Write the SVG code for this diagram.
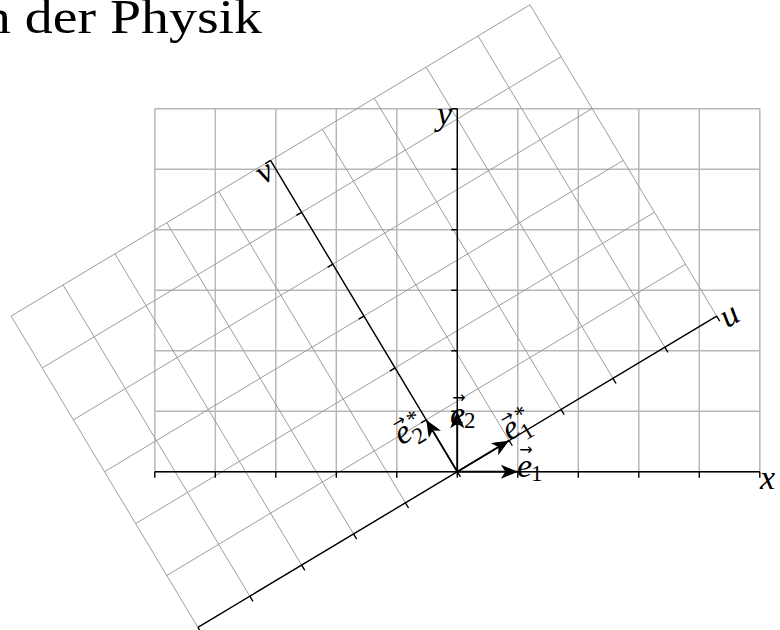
<svg xmlns="http://www.w3.org/2000/svg" width="780" height="630" viewBox="0 0 780 630">
<defs>
<style>
.gxy{fill:none;stroke:#b8b8b8;stroke-width:1.5;vector-effect:non-scaling-stroke}
.guv{fill:none;stroke:#9c9c9c;stroke-width:1;vector-effect:non-scaling-stroke}
.ax{fill:none;stroke:#000;stroke-width:1.4;vector-effect:non-scaling-stroke}
.vec{fill:none;stroke:#000;stroke-width:1.7;marker-end:url(#ah)}
.lbl{font-family:"Liberation Serif","DejaVu Serif",serif;font-style:italic;font-size:34px;fill:#000}
.sub{font-family:"Liberation Serif","DejaVu Serif",serif;font-size:23px;fill:#000}
.acc{font-family:"DejaVu Sans",sans-serif;font-size:16px;fill:#000;text-anchor:middle}
.ttl{font-family:"Liberation Serif","DejaVu Serif",serif;font-size:48px;fill:#000}
</style>
<marker id="ah" markerUnits="userSpaceOnUse" markerWidth="20" markerHeight="18" viewBox="-18 -9 20 18" refX="0" refY="0" orient="auto">
<path d="M0,0 C-5,-1.8 -10,-4.5 -17,-7 L-12.5,0 L-17,7 C-10,4.5 -5,1.8 0,0 Z" fill="#000"/>
</marker>
</defs>
<rect width="780" height="630" fill="#fff"/>
<g id="title"><text class="ttl" x="-17" y="33" textLength="279" lengthAdjust="spacingAndGlyphs">n der Physik</text></g>
<g id="grid-xy" transform="matrix(60.5,0,0,-60.5,457.3,471.7)">
<path class="gxy" d="M-5,0V6M-4,0V6M-3,0V6M-2,0V6M-1,0V6M0,0V6M1,0V6M2,0V6M3,0V6M4,0V6M5,0V6M-5,0H5M-5,1H5M-5,2H5M-5,3H5M-5,4H5M-5,5H5M-5,6H5"/>
</g>
<g id="grid-uv" transform="matrix(51.878,-31.127,-31.127,-51.878,457.3,471.7)">
<path class="guv" d="M-5,0V6M-4,0V6M-3,0V6M-2,0V6M-1,0V6M0,0V6M1,0V6M2,0V6M3,0V6M4,0V6M5,0V6M-5,0H5M-5,1H5M-5,2H5M-5,3H5M-5,4H5M-5,5H5M-5,6H5"/>
</g>
<g id="connectors">
<g id="axes-xy" transform="matrix(60.5,0,0,-60.5,457.3,471.7)">
<path class="ax" d="M-5,0H5M0,0V6M-5,0V-0.1M-4,0V-0.1M-3,0V-0.1M-2,0V-0.1M-1,0V-0.1M0,0V-0.1M1,0V-0.1M2,0V-0.1M3,0V-0.1M4,0V-0.1M5,0V-0.1M0,1H-0.1M0,2H-0.1M0,3H-0.1M0,4H-0.1M0,5H-0.1M0,6H-0.1"/>
</g>
<g id="axes-uv" transform="matrix(51.878,-31.127,-31.127,-51.878,457.3,471.7)">
<path class="ax" d="M-5,0H5M0,0V6M-5,0V-0.1M-4,0V-0.1M-3,0V-0.1M-2,0V-0.1M-1,0V-0.1M0,0V-0.1M1,0V-0.1M2,0V-0.1M3,0V-0.1M4,0V-0.1M5,0V-0.1M0,1H-0.1M0,2H-0.1M0,3H-0.1M0,4H-0.1M0,5H-0.1M0,6H-0.1"/>
</g>
<path id="vec-e1" class="vec" d="M457.3,471.7L517.8,471.7"/>
<path id="vec-e2" class="vec" d="M457.3,471.7L457.3,411.2"/>
<path id="vec-e1s" class="vec" d="M457.3,471.7L509.18,440.57"/>
<path id="vec-e2s" class="vec" d="M457.3,471.7L426.17,419.82"/>
</g>
<g id="label-x"><text class="lbl" x="760" y="489">x</text></g>
<g id="label-y"><text class="lbl" x="437" y="125">y</text></g>
<g id="label-u" transform="translate(731,318) rotate(-30.96)"><text class="lbl" x="0" y="7" text-anchor="middle">u</text></g>
<g id="label-v" transform="translate(266,175) rotate(-30.96)"><text class="lbl" x="0" y="7" text-anchor="middle">v</text></g>
<g id="label-e1"><text class="lbl" x="517" y="477">e</text><text class="sub" x="531" y="481">1</text><text class="acc" x="526" y="455">→</text></g>
<g id="label-e2"><text class="lbl" x="450" y="425">e</text><text class="sub" x="464" y="428">2</text><text class="acc" x="459" y="403">→</text></g>
<g id="label-e1s" transform="translate(509.4,441.2) rotate(-30.96)"><text class="lbl" x="0" y="0">e</text><text class="sub" x="14.5" y="8">1</text><text class="sub" x="24" y="-10" text-anchor="middle">*</text><text class="acc" x="10" y="-17">→</text></g>
<g id="label-e2s" transform="translate(401.4,445.7) rotate(-30.96)"><text class="lbl" x="0" y="0">e</text><text class="sub" x="14.5" y="8">2</text><text class="sub" x="24" y="-10" text-anchor="middle">*</text><text class="acc" x="10" y="-17">→</text></g>
</svg>
